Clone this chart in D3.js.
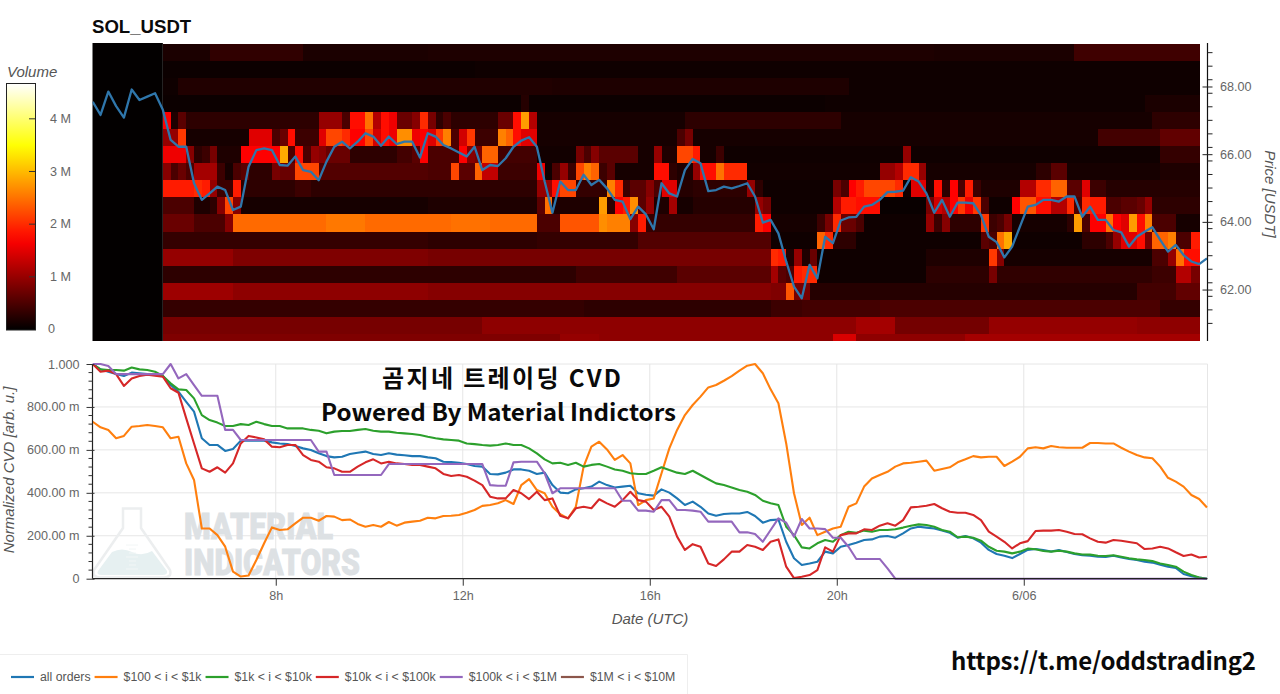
<!DOCTYPE html>
<html>
<head>
<meta charset="utf-8">
<title>SOL_USDT order-size CVD</title>
<script src="https://cdn.jsdelivr.net/npm/d3@7/dist/d3.min.js"></script>
<style>
  html, body { margin: 0; padding: 0; background: #fff; }
  svg { display: block; }
  text { font-family: "Liberation Sans", Arial, sans-serif; }
  .tick-label { fill: #666; font-size: 12.6px; }
  .axis-title { fill: #555; font-size: 15px; font-style: italic; }
  .banner { font-family: "Noto Sans CJK KR", "Noto Sans", sans-serif; font-weight: 700; fill: #0a0a0a; }
</style>
</head>
<body>
<svg id="chart" width="1280" height="694"></svg>
<script>
// Ten-minute sampling grid shared by the price line and the CVD curves (hours from 00:00 UTC, 6/05)
const sampleStartHour = 4.085;
const sampleStepHours = 1 / 6;

// Last traded price, USDT
const priceSeries = [
  67.55,67.16,67.85,67.42,67.08,67.91,67.60,67.70,67.80,67.31,66.42,66.22,66.22,65.14,64.65,64.84,65.04,64.94,64.35,64.45,
  65.63,66.12,66.17,66.12,65.68,65.66,65.93,65.53,65.48,65.23,65.78,66.22,66.37,66.17,66.37,66.62,66.52,66.25,66.52,66.30,
  66.37,66.37,65.90,66.62,66.52,66.27,66.17,66.05,65.93,66.22,65.53,65.68,65.65,65.88,66.22,66.40,66.50,66.22,65.19,64.27,
  65.19,64.94,64.94,65.39,65.09,65.24,64.99,64.65,64.60,64.08,64.45,64.22,63.78,65.14,64.84,64.75,65.53,65.86,65.73,64.91,
  64.94,65.04,64.99,65.06,65.14,64.75,63.98,64.06,63.66,62.83,62.09,61.74,62.73,62.33,63.56,63.37,64.04,64.13,
  64.15,64.45,64.50,64.65,64.88,64.89,64.92,65.32,65.19,64.84,64.27,64.65,64.15,64.57,64.57,64.55,64.20,63.56,63.40,62.95,
  63.27,63.86,64.45,64.50,64.65,64.65,64.60,64.75,64.75,64.15,64.45,64.06,64.06,63.76,63.69,63.27,63.56,63.71,63.84,63.47,
  63.12,63.32,63.02,62.83,62.75,62.92
];

// Normalized cumulative volume delta per order-size bucket
const cvdAllOrders = [
  1,.975,.964,.953,.944,.96,.957,.953,.949,.944,.902,.871,.824,.778,.654,.623,.623,.595,.604,.643,
  .643,.643,.643,.635,.63,.627,.618,.607,.599,.584,.571,.565,.568,.581,.587,.592,.581,.576,.584,.578,
  .575,.571,.571,.565,.561,.545,.543,.54,.534,.525,.522,.488,.486,.494,.509,.509,.503,.488,.494,.436,
  .401,.398,.416,.421,.429,.452,.436,.425,.429,.433,.398,.391,.387,.416,.401,.374,.343,.359,.335,.304,
  .293,.301,.304,.304,.311,.292,.261,.273,.276,.172,.095,.064,.071,.079,.126,.118,.149,.157,
  .168,.18,.183,.196,.199,.191,.211,.234,.242,.238,.234,.224,.214,.191,.199,.188,.168,.134,.115,.107,
  .096,.115,.134,.138,.134,.127,.134,.124,.115,.109,.107,.102,.101,.107,.099,.092,.087,.079,.075,.065,
  .056,.05,.022,.012,.005,0
];
const cvd100To1k = [
  .731,.705,.693,.654,.665,.708,.711,.716,.711,.705,.654,.661,.537,.46,.234,.234,.203,.149,.033,.01,
  .015,.087,.165,.239,.227,.23,.258,.284,.284,.27,.292,.289,.273,.276,.255,.242,.25,.242,.264,.247,
  .261,.266,.27,.284,.281,.292,.293,.297,.307,.32,.339,.343,.351,.366,.348,.436,.464,.413,.398,.335,
  .3,.281,.335,.522,.615,.638,.602,.553,.576,.537,.343,.366,.374,.491,.607,.693,.762,.809,.848,.891,
  .902,.922,.944,.969,.992,1,.957,.882,.817,.63,.398,.25,.284,.203,.219,.234,.242,.335,
  .351,.429,.467,.483,.498,.522,.537,.54,.545,.55,.503,.511,.519,.542,.556,.571,.565,.568,.568,.525,
  .545,.568,.607,.612,.607,.618,.612,.61,.61,.61,.632,.632,.63,.63,.61,.592,.576,.565,.561,.522,
  .47,.452,.429,.39,.371,.332
];
const cvd1kTo10k = [
  1,.975,.972,.972,.969,.984,.975,.972,.964,.944,.91,.882,.879,.84,.762,.739,.727,.711,.711,.72,
  .716,.731,.72,.711,.711,.7,.7,.7,.693,.689,.677,.685,.688,.688,.693,.697,.689,.685,.685,.68,
  .677,.674,.669,.661,.654,.649,.646,.643,.63,.627,.623,.62,.623,.63,.623,.623,.607,.584,.556,.537,
  .54,.53,.54,.522,.53,.534,.522,.509,.503,.491,.488,.488,.503,.519,.506,.494,.488,.503,.483,.463,
  .444,.436,.425,.413,.405,.39,.363,.351,.343,.242,.203,.146,.141,.165,.18,.172,.203,.219,
  .214,.224,.219,.227,.227,.23,.238,.247,.253,.25,.242,.227,.219,.193,.196,.191,.177,.149,.13,.126,
  .118,.126,.14,.137,.129,.126,.13,.126,.118,.113,.112,.107,.106,.109,.102,.095,.09,.087,.082,.071,
  .064,.056,.033,.017,.006,0
];
const cvd10kTo100k = [
  1,.964,.969,.953,.898,.933,.944,.95,.946,.941,.887,.866,.747,.63,.514,.498,.519,.494,.537,.63,
  .665,.658,.649,.615,.612,.623,.623,.576,.553,.545,.519,.514,.498,.498,.522,.542,.556,.537,.545,.537,
  .534,.53,.53,.522,.514,.488,.478,.483,.475,.457,.436,.382,.374,.374,.413,.398,.371,.405,.366,.374,
  .293,.281,.328,.335,.328,.37,.351,.335,.366,.405,.366,.359,.32,.335,.289,.196,.134,.161,.149,.071,
  .059,.09,.126,.126,.157,.149,.134,.172,.183,.056,.003,.009,.017,.04,.146,.126,.203,.211,
  .211,.23,.227,.247,.258,.247,.273,.332,.335,.34,.348,.328,.312,.307,.307,.297,.273,.219,.196,.172,
  .141,.165,.175,.222,.224,.224,.227,.219,.208,.207,.188,.172,.168,.18,.177,.171,.165,.138,.141,.149,
  .141,.123,.106,.113,.099,.102
];
const cvd100kTo1M = [
  1,1,.991,.953,.953,.953,.953,.953,.953,.953,1,.933,.953,.902,.852,.852,.852,.693,.693,.646,
  .646,.646,.646,.646,.646,.646,.646,.646,.646,.592,.592,.483,.483,.483,.483,.483,.483,.483,.534,.534,
  .534,.534,.534,.534,.534,.534,.534,.534,.534,.534,.534,.436,.433,.433,.542,.545,.545,.545,.491,.398,
  .421,.421,.421,.421,.421,.421,.421,.421,.363,.363,.317,.317,.312,.366,.366,.32,.32,.317,.312,.266,
  .266,.266,.266,.216,.216,.208,.172,.227,.281,.261,.196,.278,.234,.234,.231,.191,.191,.149,
  .092,.092,.092,.092,.048,0,0,0,0,0,0,0,0,0,0,0,0,0,0,0,
  0,0,0,0,0,0,0,0,0,0,0,0,0,0,0,0,0,0,0,0,
  0,0,0,0,0,0
];
const cvd1MTo10M = [];

const cvdSeries = [cvdAllOrders, cvd100To1k, cvd1kTo10k, cvd10kTo100k, cvd100kTo1M, cvd1MTo10M];
const seriesNames = ["all orders", "$100 < i < $1k", "$1k < i < $10k", "$10k < i < $100k", "$100k < i < $1M", "$1M < i < $10M"];
const seriesColors = ["#1f77b4", "#ff7f0e", "#2ca02c", "#d62728", "#9467bd", "#8c564b"];

// Resting volume by price level, in millions: runs of [volume, ten-minute cells], top level first
const heatStartHour = 5.585;
const priceBinTop = 69.255;
const priceBinSize = 0.5037;
const level00 = [[.18,6],[.32,12],[.18,16],[.2,65],[.18,18],[.42,16]];
const level01 = [[.08,40],[.1,93]];
const level02 = [[.1,2],[.22,48],[.2,38],[.1,45]];
const level03 = [[.08,46],[.25,1],[.08,38],[.1,41],[.18,7]];
const level04 = [[1.7,1],[.2,1],[.6,1],[.3,17],[1,3],[.5,1],[1.8,2],[2.5,1],[1.2,1],[1.8,1],[1.6,1],[.7,2],[.9,1],[2,1],[.8,1],[.3,1],[.5,1],[.3,6],[.7,2],[1.8,1],[2.8,1],[1.2,1],[.15,19],[.3,20],[.15,40],[.3,6]];
const level05 = [[1,1],[1,1],[2.1,1],[.15,8],[1.5,3],[.5,1],[.7,1],[1.8,1],[.4,3],[1.5,1],[2.2,2],[2,1],[1.7,2],[2.2,1],[1.4,1],[1.8,1],[1.6,1],[2.7,2],[1.6,1],[1.7,1],[1.5,1],[2.1,1],[2.6,1],[.5,1],[1.4,1],[2.1,1],[.4,3],[2.6,1],[2.4,1],[1.8,1],[1.5,2],[.15,18],[.5,1],[.8,1],[.15,52],[.45,8],[.65,5]];
const level06 = [[1.6,3],[.9,1],[.3,1],[.4,1],[.8,1],[.2,3],[1.7,5],[2.9,1],[.5,1],[1.8,1],[.5,1],[1,1],[.9,1],[.7,3],[.3,6],[.45,2],[.6,1],[1.7,1],[.5,3],[.5,1],[1.7,1],[.9,1],[.8,1],[2.4,2],[.45,5],[.12,5],[.8,1],[.5,1],[.9,1],[.6,5],[.15,2],[1,1],[.2,2],[2.2,2],[1.9,1],[.15,2],[.4,1],[.1,23],[1,1],[.1,32],[.35,5]];
const level07 = [[.9,1],[.5,1],[.7,1],[.5,1],[1.1,3],[.4,1],[.15,1],[.5,1],[.6,1],[.3,3],[.8,1],[.7,1],[.7,1],[2.2,3],[.55,14],[.5,3],[2.2,1],[.6,2],[2.4,1],[1.3,2],[.4,5],[1.6,1],[.1,1],[.5,1],[1,1],[.4,1],[2.2,1],[2.6,1],[2.4,1],[.4,1],[.6,1],[.15,5],[1.8,2],[.3,1],[.2,2],[1,1],[1.8,2],[2.5,1],[2,3],[.12,17],[1,2],[1.2,1],[2,2],[1,1],[.15,14],[.3,2],[.6,2],[.15,12],[.2,5]];
const level08 = [[1.9,4],[2,1],[1.9,1],[1,1],[.4,2],[1.9,1],[.3,7],[.4,2],[.3,15],[.3,14],[1,2],[1.8,1],[2.2,2],[.35,4],[2.6,1],[2,1],[.4,1],[.6,2],[.9,1],[.5,1],[1.5,2],[.25,2],[.3,7],[1,1],[.3,1],[.1,9],[.8,1],[.5,1],[1.7,1],[1.9,1],[2.2,4],[2,1],[.1,1],[1.5,2],[.2,1],[1.8,1],[.3,1],[1.7,1],[.5,1],[1.9,1],[.4,1],[.2,5],[1.2,2],[2,2],[2.4,2],[.6,2],[1.5,1],[.4,2],[.25,12]];
const level09 = [[.5,4],[.2,2],[.3,1],[.9,1],[2.2,1],[.9,1],[.15,24],[.2,14],[.6,1],[2.5,1],[.2,6],[2.8,1],[.3,1],[1.7,1],[1.9,1],[2.7,1],[.6,1],[1,1],[.2,2],[1.1,1],[.15,2],[.25,8],[1,1],[.8,1],[.1,8],[1.2,1],[1.9,2],[1.8,3],[.06,6],[.8,1],[1.4,1],[1.2,1],[1.7,1],[2.1,1],[1.6,1],[2.1,1],[.5,1],[.1,3],[1.7,1],[2.3,2],[1.8,2],[1.2,2],[2,1],[.5,1],[2,1],[1.9,2],[.5,2],[.6,2],[.7,1],[1,1],[.3,6]];
const level10 = [[.7,4],[.5,4],[.9,1],[2.45,12],[2.55,5],[2.45,11],[2.5,5],[2.45,6],[.5,3],[2.3,5],[2.7,1],[2.6,3],[.9,1],[1.9,1],[.35,14],[1.9,1],[1.7,1],[.15,6],[.4,1],[.8,1],[2,1],[.7,2],[.5,1],[.1,8],[1,1],[.4,1],[.9,1],[.3,4],[2.1,1],[.4,1],[.5,1],[.8,1],[.15,7],[.3,1],[2.8,1],[.5,1],[1.7,2],[2.5,1],[1.7,1],[1.5,1],[2.8,1],[1.8,1],[2.6,1],[.5,2],[.5,1],[.15,3]];
const level11 = [[.35,34],[.3,14],[.35,13],[.55,17],[.1,6],[2.4,1],[2,1],[.3,3],[.1,16],[.6,1],[.5,1],[2.5,1],[2.9,1],[.1,9],[.3,3],[.5,1],[1,1],[1.5,2],[1.8,1],[.8,1],[2.4,2],[2.6,1],[.5,2],[1.9,1]];
const level12 = [[1,9],[.85,25],[.8,44],[2,1],[1.9,1],[.2,1],[1,1],[.2,1],[.7,1],[.1,14],[.2,8],[2.1,1],[.9,1],[.15,19],[.5,2],[1,1],[2.5,1],[1.8,1],[1.8,1]];
const level13 = [[.3,53],[.42,13],[.6,12],[1.1,1],[.6,1],[.5,1],[1.9,1],[2,2],[.1,14],[.3,8],[.8,1],[.32,20],[.4,3],[1.2,2],[.8,1]];
const level14 = [[1.05,9],[.95,25],[.9,44],[.85,2],[2.3,1],[.8,2],[.25,42],[.45,5],[.65,3]];
const level15 = [[.35,54],[.3,24],[.4,4],[.45,10],[.5,36],[.35,5]];
const level16 = [[.8,41],[.95,48],[1.1,5],[.78,12],[1,19],[.95,8]];
const level17 = [[.85,51],[1,5],[.95,30],[1.45,3],[.95,14],[1.1,30]];
const heatLevels = [level00,level01,level02,level03,level04,level05,level06,level07,level08,level09,level10,level11,level12,level13,level14,level15,level16,level17];

// Axis labelling
const timeTickHours = [8, 12, 16, 20, 24];
const timeTickLabels = ["8h", "12h", "16h", "20h", "6/06"];
const priceTicks = [62, 64, 66, 68];
const cvdTicks = [0, 0.2, 0.4, 0.6, 0.8, 1];
const cvdTickLabels = ["0", "200.00 m", "400.00 m", "600.00 m", "800.00 m", "1.000"];
const volumeTicks = [0, 1, 2, 3, 4];
const volumeTickLabels = ["0", "1 M", "2 M", "3 M", "4 M"];

// Panel geometry
const plotLeft = 92.5, plotRight = 1207.5;
const heatTop = 43, heatBottom = 341;
const cvdTop = 364, cvdBottom = 578.7;

const svg = d3.select("#chart");

const x = d3.scaleLinear().domain([4.08, 27.93]).range([plotLeft, plotRight]);
const yPrice = d3.scaleLinear().domain([60.48, 69.285]).range([heatBottom, heatTop]);
const yCvd = d3.scaleLinear().domain([0, 1]).range([cvdBottom, cvdTop]);
const yVolume = d3.scaleLinear().domain([0, 4.68]).range([329.5, 83]);

// Black-red-yellow-white heat ramp across the volume range
const heatColor = d3.scaleLinear()
  .domain([0, 1.708, 3.491, 4.68])
  .range(["#000000", "#ff0000", "#ffff00", "#ffffff"])
  .clamp(true);

const defs = svg.append("defs");
defs.append("clipPath").attr("id", "heat-clip").append("rect")
  .attr("x", plotLeft).attr("y", heatTop).attr("width", plotRight - plotLeft).attr("height", heatBottom - heatTop);

// Heatmap panel
svg.append("rect")
  .attr("x", plotLeft).attr("y", heatTop)
  .attr("width", x(heatStartHour) - plotLeft).attr("height", heatBottom - heatTop)
  .attr("fill", heatColor(0.02));

const cells = [];
heatLevels.forEach((runs, level) => {
  let column = 0;
  runs.forEach(([volume, count]) => {
    for (let i = 0; i < count; i++, column++) cells.push({ level, column, volume });
  });
});

svg.append("g").attr("clip-path", "url(#heat-clip)").attr("shape-rendering", "crispEdges")
  .selectAll("rect").data(cells).join("rect")
  .attr("x", d => x(heatStartHour + d.column * sampleStepHours))
  .attr("width", x(heatStartHour + sampleStepHours) - x(heatStartHour) + 0.6)
  .attr("y", d => yPrice(priceBinTop - d.level * priceBinSize))
  .attr("height", yPrice(0) - yPrice(priceBinSize) + 0.6)
  .attr("fill", d => heatColor(d.volume));

const sampleHour = i => sampleStartHour + i * sampleStepHours;

svg.append("path").datum(priceSeries)
  .attr("fill", "none").attr("stroke", "#2f76ab").attr("stroke-width", 2.3).attr("stroke-linejoin", "round")
  .attr("clip-path", "url(#heat-clip)")
  .attr("d", d3.line().x((d, i) => x(sampleHour(i))).y(d => yPrice(d)));

// Price axis on the right
const priceAxis = svg.append("g").attr("transform", `translate(${plotRight},0)`);
priceAxis.call(d3.axisRight(yPrice).tickValues(priceTicks).tickFormat(d3.format(".2f")).tickSize(5).tickPadding(8));
priceAxis.selectAll(".tick line").attr("x1", -5).attr("x2", 5).attr("stroke", "#222");
priceAxis.select(".domain").attr("stroke", "#111").attr("stroke-width", 1.2).attr("d", `M0,${heatTop}V${heatBottom}`);
priceAxis.selectAll("text").attr("class", "tick-label").attr("font-family", null).attr("font-size", null).attr("x", 12.5);
priceAxis.selectAll(".minor").data(d3.range(61, 69.3, 0.4).filter(v => !priceTicks.some(p => Math.abs(p - v) < 0.01)))
  .join("line").attr("class", "minor").attr("stroke", "#222")
  .attr("x1", 0).attr("x2", 5).attr("y1", d => yPrice(d)).attr("y2", d => yPrice(d));

svg.append("text").attr("class", "axis-title")
  .attr("transform", "translate(1265,194) rotate(90)").attr("text-anchor", "middle").text("Price [USDT]");

svg.append("text").attr("x", 92).attr("y", 33)
  .attr("font-size", 18.6).attr("font-weight", 700).attr("fill", "#0a0a0a").text("SOL_USDT");

// Volume colour bar
const barGradient = defs.append("linearGradient").attr("id", "volume-ramp")
  .attr("x1", 0).attr("x2", 0).attr("y1", 1).attr("y2", 0);
barGradient.selectAll("stop").data(d3.range(0, 1.0001, 0.05)).join("stop")
  .attr("offset", d => d)
  .attr("stop-color", d => heatColor(d * 4.68));
svg.append("rect").attr("x", 6.5).attr("y", 83.5).attr("width", 29).attr("height", 246.5)
  .attr("fill", "url(#volume-ramp)").attr("stroke", "#222").attr("stroke-width", 1);
const volumeAxis = svg.append("g").selectAll("g").data(volumeTicks).join("g")
  .attr("transform", d => `translate(0,${yVolume(d)})`);
volumeAxis.filter(d => d > 0).append("line").attr("x1", 29).attr("x2", 35).attr("stroke", "#333");
volumeAxis.append("text").attr("class", "tick-label")
  .attr("x", (d, i) => i === 0 ? 48 : 50).attr("dy", d => d === 0 ? "0.28em" : "0.33em")
  .text((d, i) => volumeTickLabels[i]);
svg.append("text").attr("class", "axis-title").attr("x", 7).attr("y", 77).text("Volume");

// CVD panel: grid and watermark sit under the curves
const cvdGrid = svg.append("g").attr("stroke", "#e6e6e6").attr("stroke-width", 1);
cvdGrid.selectAll(".gy").data(cvdTicks.slice(1)).join("line")
  .attr("x1", plotLeft).attr("x2", plotRight).attr("y1", d => yCvd(d)).attr("y2", d => yCvd(d));
cvdGrid.selectAll(".gx").data(timeTickHours).join("line")
  .attr("x1", d => x(d)).attr("x2", d => x(d)).attr("y1", cvdTop).attr("y2", cvdBottom);
cvdGrid.append("line").attr("x1", plotRight).attr("x2", plotRight).attr("y1", cvdTop).attr("y2", cvdBottom);

const logo = svg.append("g");
logo.append("path")
  .attr("d", "M123,508.5H141V528L170,570Q172,577.5 164,577.5H100Q92,577.5 94,570L123,528Z")
  .attr("fill", "none").attr("stroke", "#eceeef").attr("stroke-width", 2.5);
logo.append("path")
  .attr("d", "M112,552Q122,547 132,552T152,551L167,571Q168,575 162,575H102Q96,575 98,571Z")
  .attr("fill", "#e6f0f1");
logo.append("g").attr("stroke", "#f2f6f6").attr("stroke-width", 1).selectAll("line")
  .data([545, 549, 553, 557, 561, 565, 569]).join("line")
  .attr("x1", (d, i) => i % 3 ? 129 : 126).attr("x2", (d, i) => i % 3 ? 136 : 138)
  .attr("y1", d => d).attr("y2", d => d);
const wordmark = svg.append("g").style("font-family", "Roboto, sans-serif").attr("font-weight", 900)
  .attr("font-size", 37).attr("fill", "#dde1e4").attr("stroke", "#dde1e4").attr("stroke-width", 0.9);
wordmark.append("text").style("font-family", "Roboto, sans-serif").attr("x", 184).attr("y", 539).attr("textLength", 149).attr("lengthAdjust", "spacingAndGlyphs").text("MATERIAL");
wordmark.append("text").style("font-family", "Roboto, sans-serif").attr("x", 184).attr("y", 575).attr("textLength", 176).attr("lengthAdjust", "spacingAndGlyphs").text("INDICATORS");

const cvdLine = d3.line().x((d, i) => x(sampleHour(i))).y(d => yCvd(d));
svg.append("g").attr("fill", "none").attr("stroke-width", 2.1).attr("stroke-linejoin", "round")
  .selectAll("path").data(cvdSeries).join("path")
  .attr("stroke", (d, i) => seriesColors[i])
  .attr("d", d => d.length ? cvdLine(d) : null);

// CVD axes
const timeAxis = svg.append("g").attr("transform", `translate(0,${cvdBottom})`);
timeAxis.call(d3.axisBottom(x).tickValues(timeTickHours).tickFormat((d, i) => timeTickLabels[i]).tickSize(7).tickPadding(5));
timeAxis.select(".domain").attr("stroke", "#222").attr("stroke-width", 1.3).attr("d", `M${plotLeft},0H${plotRight}`);
timeAxis.selectAll(".tick line").attr("stroke", "#333");
timeAxis.selectAll("text").attr("class", "tick-label").attr("font-family", null).attr("font-size", null);

const cvdAxis = svg.append("g").attr("transform", `translate(${plotLeft},0)`);
cvdAxis.call(d3.axisLeft(yCvd).tickValues(cvdTicks).tickFormat((d, i) => cvdTickLabels[i]).tickSize(6).tickPadding(7));
cvdAxis.select(".domain").attr("stroke", "#222").attr("stroke-width", 1.2).attr("d", `M0,${cvdTop}V${cvdBottom}`);
cvdAxis.selectAll(".tick line").attr("x2", 2).attr("x1", -6).attr("stroke", "#333");
cvdAxis.selectAll("text").attr("class", "tick-label").attr("font-family", null).attr("font-size", null);
cvdAxis.selectAll(".minor").data(d3.range(0.04, 1, 0.04).filter(v => !cvdTicks.some(t => Math.abs(t - v) < 0.001)))
  .join("line").attr("class", "minor").attr("stroke", "#333")
  .attr("x1", -4).attr("x2", 0).attr("y1", d => yCvd(d)).attr("y2", d => yCvd(d));

svg.append("text").attr("class", "axis-title")
  .attr("transform", "translate(14,470) rotate(-90)").attr("text-anchor", "middle").text("Normalized CVD [arb. u.]");
svg.append("text").attr("class", "axis-title").attr("x", 650).attr("y", 624).attr("text-anchor", "middle").text("Date (UTC)");

// Overlaid captions
svg.append("text").attr("class", "banner").attr("x", 382).attr("y", 387).attr("font-size", 24)
  .attr("textLength", 239).attr("lengthAdjust", "spacing").text("곰지네 트레이딩 CVD");
svg.append("text").attr("class", "banner").attr("x", 321).attr("y", 421).attr("font-size", 23.5)
  .attr("textLength", 355).attr("lengthAdjust", "spacingAndGlyphs").text("Powered By Material Indictors");
svg.append("text").attr("class", "banner").attr("x", 951).attr("y", 670).attr("font-size", 24)
  .attr("textLength", 305).attr("lengthAdjust", "spacing").text("https://t.me/oddstrading2");

// Legend strip
svg.append("path").attr("d", "M0,654.5H687.5V694").attr("fill", "none").attr("stroke", "#eeeeee");
let legendX = 11;
seriesNames.forEach((name, i) => {
  svg.append("line").attr("x1", legendX).attr("x2", legendX + 23).attr("y1", 677).attr("y2", 677)
    .attr("stroke", seriesColors[i]).attr("stroke-width", 2.2);
  const label = svg.append("text").attr("x", legendX + 29).attr("y", 681)
    .attr("font-size", 12.3).attr("fill", "#555").text(name);
  legendX += 29 + label.node().getComputedTextLength() + 4;
});
</script>
</body>
</html>
